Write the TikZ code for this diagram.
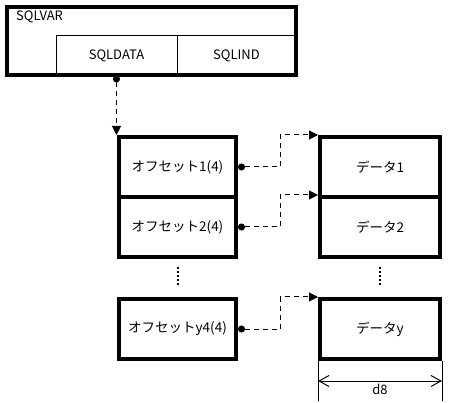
\documentclass[tikz,border=0pt]{standalone}
\usepackage{fontspec}
\newfontfamily\jpfont{Noto Sans CJK JP}
\usepackage{tikz}
\usetikzlibrary{
  arrows.meta,
  positioning,
  calc
}

\begin{document}
\begin{tikzpicture}[
  x=1pt, y=-1pt,
  box/.style={rectangle, draw, line width=4pt, minimum width=117pt, minimum height=60pt, inner sep=0pt, font=\jpfont\fontsize{13.5}{15}\selectfont},
  cell/.style={rectangle, draw, line width=1pt, minimum height=39pt, inner sep=0pt, font=\jpfont\fontsize{13}{15}\selectfont},
  caption/.style={inner sep=0pt, font=\jpfont\fontsize{13}{15}\selectfont},
  link/.style={line width=1pt, dash pattern=on 5pt off 4pt, {Circle[length=7pt]}-{Triangle[length=9pt,width=9pt]}},
  vdots/.style={line width=2pt, dash pattern=on 2pt off 2pt},
  dim/.style={line width=1pt, {Straight Barb[length=10pt,width=11pt]}-{Straight Barb[length=10pt,width=11pt]}}
]
  \useasboundingbox (0,0) rectangle (455,403);

  % SQLVAR
  \node[cell, minimum width=121pt] (sqldata) at (116.5,55.5) {SQLDATA};
  \node[cell, minimum width=119pt] (sqlind) at (236.5,55.5) {SQLIND};
  \node[box, minimum width=289pt, minimum height=68pt] (sqlvar) at (151.5,41) {};
  \node[caption, anchor=west] (title) at (16,17) {SQLVAR};

  % Offsets
  \node[box] (off1) at (177.5,167) {オフセット1(4)};
  \node[box] (off2) at (177.5,227) {オフセット2(4)};
  \node[box] (offy) at (177.5,329) {オフセットy4(4)};

  % Data
  \node[box, minimum width=120pt] (dat1) at (380,167) {データ1};
  \node[box, minimum width=120pt] (dat2) at (380,227) {データ2};
  \node[box, minimum width=120pt] (daty) at (380,329) {データy};

  % Pointers
  \draw[link] (sqldata.south) -- (sqldata.south |- off1.north);
  \draw[link] (off1.east) -- ++(42,0) |- (dat1.north west);
  \draw[link] (off2.east) -- ++(42,0) |- (dat2.north west);
  \draw[link] (offy.east) -- ++(42,0) |- (daty.north west);

  % Omission
  \draw[vdots] ($(off2.south)+(0,8)$) -- ($(offy.north)+(0,-11)$);
  \draw[vdots] ($(dat2.south)+(0,8)$) -- ($(daty.north)+(0,-11)$);

  % Width
  \draw[line width=1pt] (daty.south west) -- ++(0,40);
  \draw[line width=1pt] (daty.south east) -- ++(0,40);
  \coordinate (wl) at ($(daty.south west)+(0,20)$);
  \coordinate (wr) at ($(daty.south east)+(0,20)$);
  \draw[dim] (wl) -- (wr) node[caption, midway, below=3pt] (width) {d8};
\end{tikzpicture}
\end{document}
